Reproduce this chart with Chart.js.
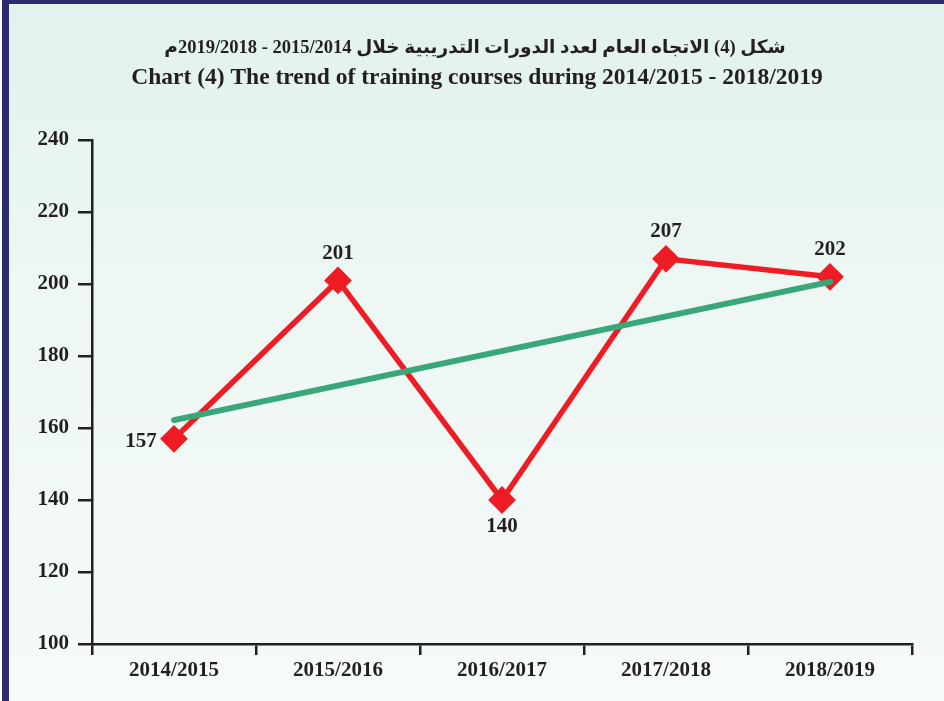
<!DOCTYPE html>
<html>
<head>
<meta charset="utf-8">
<script src="https://cdn.jsdelivr.net/npm/chart.js@4.4.1/dist/chart.umd.min.js"></script>
<style>
  html, body { margin: 0; padding: 0; }
  body { width: 944px; height: 701px; overflow: hidden; }
  .frame {
    position: absolute; left: 0; top: 0; width: 944px; height: 701px;
    box-sizing: border-box;
    border-left: 7px solid #2e2b6e; border-top: 4px solid #2e2b6e;
    margin-left: 2px;
    background: linear-gradient(to bottom, #e2f2ec 0%, #eef7f4 45%, #f6fafa 100%);
  }
  canvas { position: absolute; left: 0; top: 0; }
</style>
</head>
<body>
<div class="frame"></div>
<canvas id="chartTrend" width="944" height="701"></canvas>
<script>
const years = ['2014/2015', '2015/2016', '2016/2017', '2017/2018', '2018/2019']
const courses = [157, 201, 140, 207, 202]
// trend line: only the two ends are drawn
const trend = [162.2, null, null, null, 200.6]
const yTicks = [100, 120, 140, 160, 180, 200, 220, 240]

// RLM around the separators so the years read right-to-left as in the print
const rlm = '\u200F'
const titleAr = 'شكل (4) الاتجاه العام لعدد الدورات التدريبية خلال 2014' + rlm + '/' + rlm + '2015' +
    rlm + ' - ' + rlm + '2018' + rlm + '/' + rlm + '2019م'
const titleEn = 'Chart (4) The trend of training courses during 2014/2015 - 2018/2019'

const ink = '#231f20'
const red = '#ee1c25'
const green = '#3aa77a'
const serif = '"Liberation Serif", "Times New Roman", serif'

// value labels beside each red marker
const labelPos = ['left', 'top', 'bottom', 'top', 'top']
const valueLabels = {
    id: 'valueLabels',
    afterDatasetsDraw(chart) {
        const meta = chart.getDatasetMeta(1)
        const c = chart.ctx
        c.save()
        c.font = 'bold 21px ' + serif
        c.fillStyle = ink
        c.textAlign = 'center'
        c.textBaseline = 'middle'
        meta.data.forEach((pt, i) => {
            let x = pt.x, y = pt.y
            if (labelPos[i] === 'left') { x -= 33; y += 3 }
            else if (labelPos[i] === 'top') y -= 27
            else y += 27
            c.fillText(courses[i], x, y)
        })
        c.restore()
    }
}

// shrink a font until the line fits the width it has in the print
function fitFont(c, text, weight, family, start, width) {
    let size = start
    c.font = weight + ' ' + size + 'px ' + family
    while (c.measureText(text).width > width && size > 8) {
        size -= 0.5
        c.font = weight + ' ' + size + 'px ' + family
    }
}

// two-line heading, Arabic above English
const heading = {
    id: 'heading',
    afterDraw(chart) {
        const c = chart.ctx
        c.save()
        c.fillStyle = ink
        c.textAlign = 'center'
        c.textBaseline = 'middle'
        c.direction = 'rtl'
        fitFont(c, titleAr, 'bold', '"Liberation Serif", "DejaVu Sans", sans-serif', 22, 630)
        c.fillText(titleAr, 475, 48)
        c.direction = 'ltr'
        fitFont(c, titleEn, 'bold', serif, 26, 695)
        c.fillText(titleEn, 477, 78)
        c.restore()
    }
}

new Chart(document.getElementById('chartTrend'), {
    type: 'line',
    data: {
        labels: years,
        datasets: [
            {
                data: trend,
                borderColor: green,
                borderWidth: 6,
                borderCapStyle: 'round',
                spanGaps: true,
                pointRadius: 0,
                order: 0
            },
            {
                data: courses,
                borderColor: red,
                borderWidth: 5.5,
                pointStyle: 'rectRot',
                pointRadius: 10,
                pointBackgroundColor: red,
                pointBorderColor: red,
                order: 1
            }
        ]
    },
    options: {
        responsive: false,
        animation: false,
        layout: { padding: { top: 140, right: 32, bottom: 0, left: 0 } },
        plugins: { legend: { display: false }, tooltip: { enabled: false } },
        scales: {
            x: {
                offset: true,
                grid: { offset: true, drawOnChartArea: false, color: ink, lineWidth: 2.5, tickLength: 11 },
                border: { color: ink, width: 2.5 },
                ticks: { color: ink, font: { family: serif, size: 21, weight: 'bold' }, padding: 3 },
                afterFit: s => { s.height = 57 }
            },
            y: {
                min: 100,
                max: 240,
                afterBuildTicks: s => { s.ticks = yTicks.map(v => ({ value: v })) },
                grid: { drawOnChartArea: false, color: ink, lineWidth: 2.5, tickLength: 14 },
                border: { color: ink, width: 2.5 },
                ticks: { color: ink, font: { family: serif, size: 21, weight: 'bold' }, padding: 9 },
                afterFit: s => { s.width = 92 }
            }
        }
    },
    plugins: [valueLabels, heading]
})
</script>
</body>
</html>
